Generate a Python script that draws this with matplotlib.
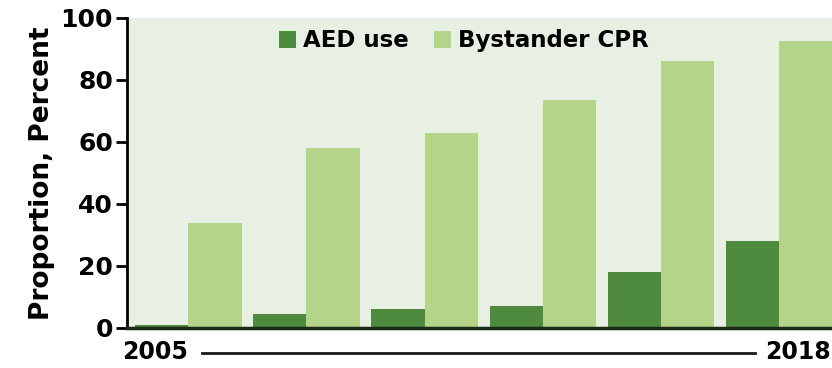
import numpy as np
import matplotlib
matplotlib.use("Agg")
import matplotlib.pyplot as plt
from matplotlib.lines import Line2D

# Données (2005 -> 2018)
groupes = np.arange(6)
aed_use = [1, 4.5, 6, 7, 18, 28]
bystander_cpr = [34, 58, 63, 73.5, 86, 92.5]
yticks = [0, 20, 40, 60, 80, 100]
annee_debut, annee_fin = "2005", "2018"

vert_fonce = "#4e8b3f"
vert_clair = "#b4d489"
fond = "#e7f0e3"

plt.rcParams["font.family"] = ["DejaVu Sans"]
plt.rcParams["font.weight"] = "bold"

fig = plt.figure(figsize=(8.32, 3.68), dpi=100)
ax = fig.add_axes([0.1526, 0.1087, 0.8474, 0.8424])
ax.set_facecolor(fond)

largeur = 0.45
ax.bar(groupes - largeur / 2, aed_use, largeur, color=vert_fonce, label="AED use", zorder=2)
ax.bar(groupes + largeur / 2, bystander_cpr, largeur, color=vert_clair, label="Bystander CPR", zorder=2)

ax.set_xlim(-0.52, 5.45)
ax.set_ylim(0, 100)
ax.set_yticks(yticks)
ax.set_xticks([])
ax.tick_params(axis="y", length=8, width=2, labelsize=18, pad=2)
for lab in ax.get_yticklabels():
    lab.set_fontweight("bold")

for s in ["top", "right"]:
    ax.spines[s].set_visible(False)
ax.spines["left"].set_linewidth(2)
ax.spines["bottom"].set_linewidth(2.5)
ax.spines["bottom"].set_color("#1a2a14")

ax.set_ylabel("Proportion, Percent", fontsize=19, fontweight="bold", labelpad=4)

leg = ax.legend(loc="upper center", bbox_to_anchor=(0.478, 1.03), ncol=2, frameon=False,
                handlelength=0.75, handleheight=0.75, handletextpad=0.3, columnspacing=1.1,
                prop={"size": 16.5, "weight": "bold"})

# Légende de l'axe des x : 2005 ——— 2018
fig.text(122 / 832, 1 - 352 / 368, annee_debut, ha="left", va="center", fontsize=17, fontweight="bold")
fig.text(831 / 832, 1 - 352 / 368, annee_fin, ha="right", va="center", fontsize=17, fontweight="bold")
fig.add_artist(Line2D([202 / 832, 755 / 832], [1 - 353 / 368] * 2, color="#1a1a1a", lw=2))

fig.savefig("out.png", dpi=100, facecolor="white")
